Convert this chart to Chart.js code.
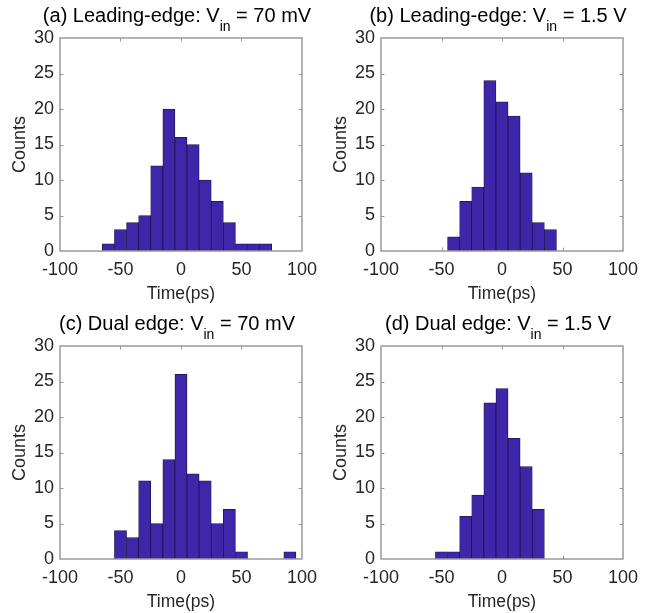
<!DOCTYPE html>
<html>
<head>
<meta charset="utf-8">
<script src="https://cdn.jsdelivr.net/npm/chart.js@4.4.1/dist/chart.umd.min.js"></script>
<style>
  html, body { margin: 0; padding: 0; background: #fff; }
  #wrap { position: relative; width: 651px; height: 613px; overflow: hidden; }
  canvas { position: absolute; }
</style>
</head>
<body>
<div id="wrap">
  <canvas id="pa" width="325" height="308" style="left:0;top:0"></canvas>
  <canvas id="pb" width="326" height="308" style="left:325px;top:0"></canvas>
  <canvas id="pc" width="325" height="313" style="left:0;top:300px"></canvas>
  <canvas id="pd" width="326" height="313" style="left:325px;top:300px"></canvas>
</div>
<script>
/* ── Data (bin centres in ps, counts per 10 ps bin) ───────────── */
const binsA   = [-60, -50, -40, -30, -20, -10, 0, 10, 20, 30, 40, 50, 60, 70];
const countsA = [1, 3, 4, 5, 12, 20, 16, 15, 10, 7, 4, 1, 1, 1];

const binsB   = [-40, -30, -20, -10, 0, 10, 20, 30, 40];
const countsB = [2, 7, 9, 24, 21, 19, 11, 4, 3];

const binsC   = [-50, -40, -30, -20, -10, 0, 10, 20, 30, 40, 50, 60, 70, 80, 90];
const countsC = [4, 3, 11, 5, 14, 26, 12, 11, 5, 7, 1, 0, 0, 0, 1];

const binsD   = [-50, -40, -30, -20, -10, 0, 10, 20, 30];
const countsD = [1, 1, 6, 9, 22, 24, 17, 13, 7];

// title = [text, subscript, rest]
const titleA = ['(a) Leading-edge: V', 'in', ' = 70 mV'];
const titleB = ['(b) Leading-edge: V', 'in', ' = 1.5 V'];
const titleC = ['(c) Dual edge: V', 'in', ' = 70 mV'];
const titleD = ['(d) Dual edge: V', 'in', ' = 1.5 V'];

const xTicks = [-100, -50, 0, 50, 100];
const yTicks = [0, 5, 10, 15, 20, 25, 30];
const xLabel = 'Time(ps)';
const yLabel = 'Counts';

/* ── Style ────────────────────────────────────────────────────── */
const FONT = "'Liberation Sans', Arial, sans-serif";
const BAR_FILL = '#3e26a8';
const BAR_EDGE = '#1c1450';
const AXIS_COLOR = '#9a9a9a';
const TEXT_COLOR = '#262626';
const TICK_LEN = 3.5;

/* ── MATLAB-like box, inward ticks, titles ────────────────────── */
const matlabAxes = {
    id: 'matlabAxes',
    beforeDatasetsDraw(chart) {
        const { ctx, chartArea: a, scales: { x, y } } = chart;
        ctx.save();
        ctx.strokeStyle = AXIS_COLOR;
        ctx.lineWidth = 1;
        ctx.beginPath();
        for (const v of yTicks.slice(1, -1)) {
            const py = Math.round(y.getPixelForValue(v)) + 0.5;
            ctx.moveTo(a.left, py); ctx.lineTo(a.left + TICK_LEN, py);
            ctx.moveTo(a.right, py); ctx.lineTo(a.right - TICK_LEN, py);
        }
        for (const v of xTicks.slice(1, -1)) {
            const px = Math.round(x.getPixelForValue(v)) + 0.5;
            ctx.moveTo(px, a.top); ctx.lineTo(px, a.top + TICK_LEN);
            ctx.moveTo(px, a.bottom); ctx.lineTo(px, a.bottom - TICK_LEN);
        }
        ctx.stroke();
        ctx.restore();
    },
    afterDatasetsDraw(chart) {
        const { ctx, chartArea: a } = chart;
        ctx.save();
        ctx.strokeStyle = AXIS_COLOR;
        ctx.lineWidth = 1.5;
        ctx.strokeRect(a.left, a.top, a.right - a.left, a.bottom - a.top);
        ctx.restore();
    },
    afterDraw(chart, args, opts) {
        const { ctx, chartArea: a } = chart;
        const cx = (a.left + a.right) / 2;
        ctx.save();
        ctx.fillStyle = TEXT_COLOR;

        // axis labels
        ctx.textAlign = 'center';
        ctx.textBaseline = 'middle';
        ctx.font = `17.5px ${FONT}`;
        ctx.fillText(xLabel, cx, a.bottom + 43);
        ctx.font = `18px ${FONT}`;
        ctx.save();
        ctx.translate(a.left - 40, (a.top + a.bottom) / 2);
        ctx.rotate(-Math.PI / 2);
        ctx.fillText(yLabel, 0, 0);
        ctx.restore();

        // title with subscript
        const [t1, sub, t2] = opts.title;
        const mainFont = `20px ${FONT}`, subFont = `14px ${FONT}`;
        ctx.font = mainFont; const w1 = ctx.measureText(t1).width, w3 = ctx.measureText(t2).width;
        ctx.font = subFont; const w2 = ctx.measureText(sub).width;
        let tx = cx - 4 - (w1 + w2 + w3) / 2;
        const base = a.top - 16;
        ctx.fillStyle = '#000';
        ctx.textAlign = 'left';
        ctx.textBaseline = 'alphabetic';
        ctx.font = mainFont; ctx.fillText(t1, tx, base); tx += w1;
        ctx.font = subFont; ctx.fillText(sub, tx, base + 9); tx += w2;
        ctx.font = mainFont; ctx.fillText(t2, tx, base);
        ctx.restore();
    }
};

function makePanel(id, bins, counts, title, box) {
    return new Chart(document.getElementById(id), {
        type: 'bar',
        data: {
            datasets: [{
                data: bins.map((b, i) => ({ x: b, y: counts[i] })),
                backgroundColor: BAR_FILL,
                borderColor: BAR_EDGE,
                borderWidth: 0.8,
                barPercentage: 1,
                categoryPercentage: 1,
            }]
        },
        options: {
            responsive: false,
            animation: false,
            events: [],
            layout: { padding: { left: 0, top: box.top, right: box.right, bottom: 0 } },
            plugins: {
                legend: { display: false },
                tooltip: { enabled: false },
                matlabAxes: { title },
            },
            scales: {
                x: {
                    type: 'linear', min: -100, max: 100, offset: false,
                    grid: { display: false, drawTicks: false }, border: { display: false },
                    afterBuildTicks: s => { s.ticks = xTicks.map(v => ({ value: v })); },
                    ticks: { padding: 8, color: TEXT_COLOR, font: { family: FONT, size: 18 }, maxRotation: 0, autoSkip: false },
                    afterFit: s => { s.height = box.xh; },
                },
                y: {
                    min: 0, max: 30,
                    grid: { display: false, drawTicks: false }, border: { display: false },
                    afterBuildTicks: s => { s.ticks = yTicks.map(v => ({ value: v })); },
                    ticks: { padding: 6, color: TEXT_COLOR, font: { family: FONT, size: 18 } },
                    afterFit: s => { s.width = box.yw; },
                }
            }
        },
        plugins: [matlabAxes]
    });
}

makePanel('pa', binsA, countsA, titleA, { yw: 60, top: 38, right: 23, xh: 57 });
makePanel('pb', binsB, countsB, titleB, { yw: 56, top: 38, right: 28, xh: 57 });
makePanel('pc', binsC, countsC, titleC, { yw: 60, top: 46, right: 23, xh: 54 });
makePanel('pd', binsD, countsD, titleD, { yw: 56, top: 46, right: 28, xh: 54 });
</script>
</body>
</html>
